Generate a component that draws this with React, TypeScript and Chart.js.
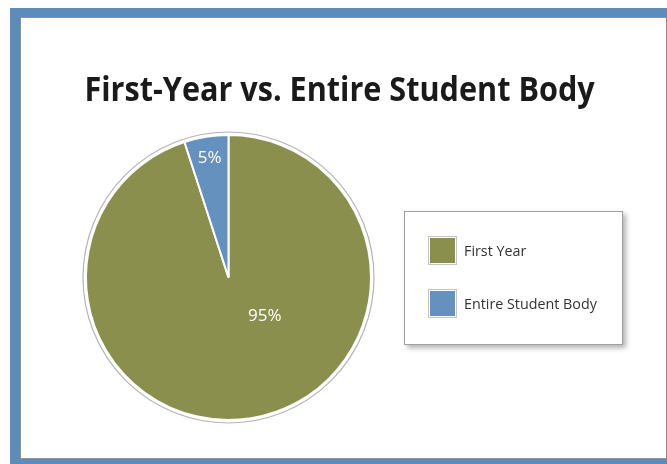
import React, { useEffect, useRef } from "react";
import { Chart, registerables } from "chart.js";

Chart.register(...registerables);

const categories = ["First Year", "Entire Student Body"];
const values = [95, 5];
const valueLabels = ["95%", "5%"];
const sliceColors = ["#8b8f4e", "#6591bf"];
const labelRadiusFrac = [0.37, 0.85];
const labelAngleDeg: (number | null)[] = [46.5, null];
const titleText = "First-Year vs. Entire Student Body";

const ringPlugin = {
  id: "ringAndLabels",
  afterDraw(chart: any) {
    const meta = chart.getDatasetMeta(0);
    const ctx = chart.ctx;
    const arcs = meta.data;
    if (!arcs.length) return;
    const a0 = arcs[0];
    ctx.save();
    ctx.beginPath();
    ctx.arc(a0.x, a0.y, a0.outerRadius + 3, 0, Math.PI * 2);
    ctx.strokeStyle = "#b4b4b4";
    ctx.lineWidth = 1.2;
    ctx.stroke();
    ctx.fillStyle = "#ffffff";
    ctx.font = "17px 'Open Sans', sans-serif";
    ctx.textAlign = "center";
    ctx.textBaseline = "middle";
    arcs.forEach((arc: any, i: number) => {
      const given = labelAngleDeg[i];
      const ang = given !== null ? (given * Math.PI) / 180 : (arc.startAngle + arc.endAngle) / 2;
      const r = arc.outerRadius * labelRadiusFrac[i];
      ctx.fillText(valueLabels[i], arc.x + Math.cos(ang) * r, arc.y + Math.sin(ang) * r);
    });
    ctx.restore();
  },
};

export default function App() {
  const ref = useRef<HTMLCanvasElement | null>(null);
  useEffect(() => {
    if (!ref.current) return;
    const chart = new Chart(ref.current, {
      type: "pie",
      data: {
        labels: categories,
        datasets: [
          {
            data: values,
            backgroundColor: sliceColors,
            borderColor: "#ffffff",
            borderWidth: 2,
          },
        ],
      },
      options: {
        responsive: false,
        animation: false,
        layout: { padding: { left: 64, right: 294, top: 116, bottom: 37 } },
        plugins: { legend: { display: false }, tooltip: { enabled: false }, title: { display: false } },
      },
      plugins: [ringPlugin],
    });
    return () => chart.destroy();
  }, []);

  return (
    <div style={{ position: "fixed", left: 0, top: 0, width: 667, height: 464, background: "#fff", overflow: "hidden" }}>
      <div style={{ position: "absolute", left: 10, top: 8, width: 700, height: 460, background: "#5d8bbb" }} />
      <div
        style={{
          position: "absolute",
          left: 20,
          top: 17,
          width: 645,
          height: 440,
          background: "#fff",
          border: "1px solid #8f8f8f",
        }}
      >
        <canvas ref={ref} width={645} height={440} style={{ position: "absolute", left: 0, top: 0 }} />
        <div
          style={{
            position: "absolute",
            left: -4,
            width: 645,
            top: 50,
            textAlign: "center",
            fontFamily: "'Open Sans', sans-serif",
            fontWeight: 700,
            fontSize: 34,
            color: "#1a1a1a",
            lineHeight: "40px",
            whiteSpace: "nowrap",
            transform: "scaleX(0.9)",
            transformOrigin: "323px 20px",
          }}
        >
          {titleText}
        </div>
        <div
          style={{
            position: "absolute",
            left: 383,
            top: 193,
            width: 217,
            height: 132,
            border: "1px solid #a0a0a0",
            background: "#fff",
            boxShadow: "3px 3px 5px rgba(0,0,0,0.3)",
          }}
        >
          {categories.map((c, i) => (
            <div
              key={c}
              style={{ position: "absolute", left: 23, top: 24 + i * 53, height: 29, display: "flex", alignItems: "center" }}
            >
              <div style={{ width: 25, height: 25, border: "1px solid #c4c4c4", padding: 1, background: "#fff" }}>
                <div style={{ width: 25, height: 25, background: sliceColors[i] }} />
              </div>
              <span
                style={{
                  marginLeft: 7,
                  fontFamily: "'Open Sans', sans-serif",
                  fontSize: 14.3,
                  color: "#333",
                  whiteSpace: "nowrap",
                }}
              >
                {c}
              </span>
            </div>
          ))}
        </div>
      </div>
    </div>
  );
}
